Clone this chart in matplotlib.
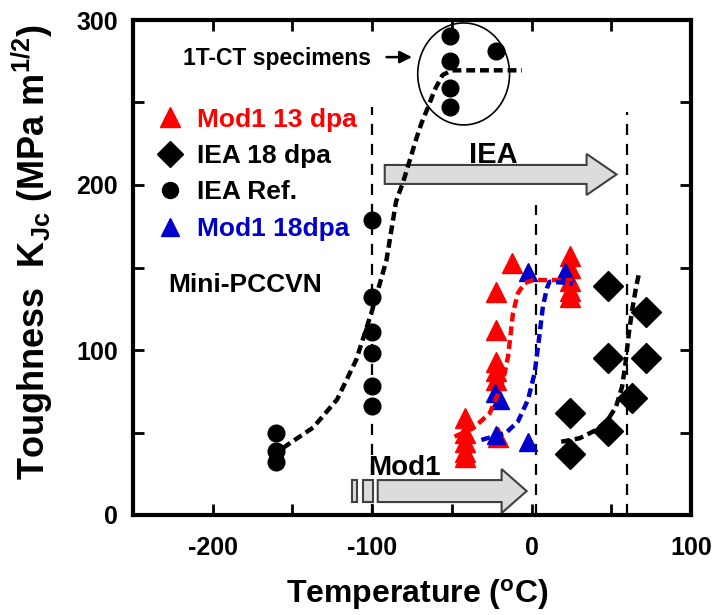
import matplotlib
matplotlib.use("Agg")
import matplotlib.pyplot as plt
from matplotlib.patches import FancyArrow, Rectangle, Ellipse
from matplotlib.lines import Line2D

plt.rcParams['font.family'] = ['Liberation Sans', 'DejaVu Sans']
plt.rcParams['font.weight'] = 'bold'
plt.rcParams['axes.unicode_minus'] = False
plt.rcParams['mathtext.fontset'] = 'custom'
plt.rcParams['mathtext.rm'] = 'Liberation Sans:bold'
plt.rcParams['mathtext.it'] = 'Liberation Sans:bold'
plt.rcParams['mathtext.bf'] = 'Liberation Sans:bold'

# ---------------- data ----------------
# IEA reference (unirradiated), circles
iea_ref_T = [-51, -51, -51, -51, -22, -100, -100, -100, -100, -100, -100, -160, -160, -160]
iea_ref_K = [290, 275, 259, 247, 281, 179, 132, 111, 98, 78, 66, 50, 39, 32]

# IEA 18 dpa, diamonds
iea18_T = [48, 72, 48, 72, 63, 24, 48, 24]
iea18_K = [139, 123, 95, 95, 71, 62, 51, 37]

# Mod1 13 dpa, red triangles
mod13_T = [-42, -42, -42, -42, -42, -22, -22, -22, -22, -22, -21, -12.5, 24, 24, 24, 24, 24]
mod13_K = [59, 50, 44, 38, 35, 135, 112, 93, 87, 82, 47, 153, 157, 150, 142, 136, 132]

# Mod1 18 dpa, blue triangles
mod18_T = [-2.5, 21, -23, -20, -22, -2.5]
mod18_K = [147, 147, 74, 70, 48.5, 44]

# fitted (master) curves
iea_ref_curve_T = [-156, -137, -122, -110, -100, -91, -85, -80.5, -76.4, -72, -69, -65, -60.8, -55.8, -50, -6]
iea_ref_curve_K = [40.6, 53, 70, 94, 124, 154.5, 190, 202, 215, 229, 237.6, 247, 257.6, 266.7, 269.5, 269.5]

iea18_curve_T = [18.6, 30.1, 40.5, 47.8, 53.0, 56.8, 58.9, 61.0, 63.1, 65.6, 67.2]
iea18_curve_K = [44.4, 46.5, 51.5, 57.6, 65.7, 77.8, 91.9, 110.1, 124.2, 138.4, 145.5]

mod13_curve_T = [-48.3, -36.8, -26.3, -20.0, -16.9, -14.8, -13.3, -11.7, -8.6, -4.4, 0.8, 25.9]
mod13_curve_K = [47.5, 52.5, 61.6, 75.8, 85.9, 95.9, 108.1, 122.2, 134.4, 140.4, 142.4, 142.4]

mod18_curve_T = [-31.5, -15.9, -8.6, -2.3, 1.9, 4.6, 7.1, 9.6, 11.3, 25.9]
mod18_curve_K = [45.5, 49.9, 56.6, 69.7, 85.9, 106.1, 126.3, 137.4, 141.4, 140.4]

# transition temperatures (vertical dashed lines) and their tops
ref_T = [-100, 3, 60]
ref_top = [247, 188, 244]

x_ticks = [-200, -100, 0, 100]
y_ticks = [0, 100, 200, 300]

RED = '#ff0000'
BLUE = '#0000cc'

fig = plt.figure(figsize=(7.2, 6.15), dpi=100)
ax = fig.add_axes([133/720, 1 - 515/615, 558/720, 495/615])

ax.set_xlim(-250, 100)
ax.set_ylim(0, 300)

# vertical dashed lines
for t, top in zip(ref_T, ref_top):
    ax.plot([t, t], [0, top], color='black', lw=1.6, ls=(0, (5.0, 4.0)), zorder=1)

# arrows
iea_arrow = FancyArrow(-92.1, 206.4, 145.4, 0, width=11.5, head_width=24.9,
                       head_length=18.8, length_includes_head=True,
                       facecolor='#dcdcdc', edgecolor='#404040', lw=1.5, zorder=2)
ax.add_patch(iea_arrow)
mod_arrow = FancyArrow(-96.5, 14.5, 93.4, 0, width=13.3, head_width=26.7,
                       head_length=15.7, length_includes_head=True,
                       facecolor='#dcdcdc', edgecolor='#404040', lw=1.5, zorder=2)
ax.add_patch(mod_arrow)
ax.add_patch(Rectangle((-112.8, 7.9), 3.1, 13.3, facecolor='#dcdcdc', edgecolor='#404040', lw=1.5, zorder=2))
ax.add_patch(Rectangle((-105.9, 7.9), 6.3, 13.3, facecolor='#dcdcdc', edgecolor='#404040', lw=1.5, zorder=2))

ax.text(-23.8, 213.3, 'IEA', fontsize=21, fontweight='bold', ha='center', va='baseline', zorder=3)
ax.text(-102.8, 24.2, 'Mod1', fontsize=20, fontweight='bold', ha='left', va='baseline', zorder=3)

# ellipse around 1T-CT specimens
ax.add_patch(Ellipse((-42.6, 267.3), 57.6, 61.8, fill=False, edgecolor='black', lw=1.2, zorder=2))
ax.text(-218.7, 272.7, '1T-CT specimens', fontsize=16.5, fontweight='bold', ha='left', va='baseline')
ax.annotate('', xy=(-75, 277.5), xytext=(-91, 277.5),
            arrowprops=dict(arrowstyle='-|>', lw=1.8, color='black', mutation_scale=18,
                            shrinkA=0, shrinkB=0))

ax.text(-228, 135.2, 'Mini-PCCVN', fontsize=19, fontweight='bold', ha='left', va='baseline')

# data markers
ax.plot(mod13_T, mod13_K, ls='none', marker='^', ms=14, color=RED, mec=RED, zorder=4)
ax.plot(iea18_T, iea18_K, ls='none', marker='D', ms=15.5, color='black', zorder=4)
ax.plot(iea_ref_T, iea_ref_K, ls='none', marker='o', ms=12, color='black', zorder=4)
ax.plot(mod18_T, mod18_K, ls='none', marker='^', ms=13, color=BLUE, mec=BLUE, zorder=5)

# curves
cls = (0, (2.0, 1.1))
ax.plot(iea_ref_curve_T, iea_ref_curve_K, color='black', lw=3.2, ls=cls, zorder=6)
ax.plot(iea18_curve_T, iea18_curve_K, color='black', lw=3.2, ls=cls, zorder=6)
ax.plot(mod13_curve_T, mod13_curve_K, color=RED, lw=3.2, ls=cls, zorder=6)
ax.plot(mod18_curve_T, mod18_curve_K, color=BLUE, lw=3.2, ls=cls, zorder=6)

# legend
handles = [
    Line2D([], [], ls='none', marker='^', ms=14, color=RED),
    Line2D([], [], ls='none', marker='D', ms=13, color='black'),
    Line2D([], [], ls='none', marker='o', ms=11.5, color='black'),
    Line2D([], [], ls='none', marker='^', ms=13, color=BLUE),
]
labels = ['Mod1 13 dpa', 'IEA 18 dpa', 'IEA Ref.', 'Mod1 18dpa']
leg = ax.legend(handles, labels, loc='upper left', bbox_to_anchor=(0.042, 0.823),
                frameon=False, borderpad=0, borderaxespad=0,
                handlelength=1.0, handletextpad=0.55, labelspacing=0.47,
                prop={'weight': 'bold', 'size': 19})
for txt, c in zip(leg.get_texts(), [RED, 'black', 'black', BLUE]):
    txt.set_color(c)

# axes styling
ax.set_xticks(x_ticks)
ax.set_xticks([-250, -150, -50, 50], minor=True)
ax.set_yticks(y_ticks)
ax.set_yticks([50, 150, 250], minor=True)
ax.tick_params(which='both', direction='in', top=True, right=True, width=2, length=8)
ax.tick_params(axis='x', which='major', labelsize=18, pad=15)
ax.tick_params(axis='y', which='major', labelsize=18, pad=11)
for lab in ax.get_xticklabels() + ax.get_yticklabels():
    lab.set_fontweight('bold')
for s in ax.spines.values():
    s.set_linewidth(3)

ax.set_xlabel('Temperature ($^{\\mathregular{o}}$C)', fontsize=23, fontweight='bold')
ax.xaxis.set_label_coords(0.509, -0.125)
ax.set_ylabel('Toughness  K$_{\\mathregular{Jc}}$ (MPa m$^{\\mathregular{1/2}}$)', fontsize=26,
              fontweight='bold')
ax.yaxis.set_label_coords(-0.14, 0.531)

fig.savefig('out.png', dpi=100)
